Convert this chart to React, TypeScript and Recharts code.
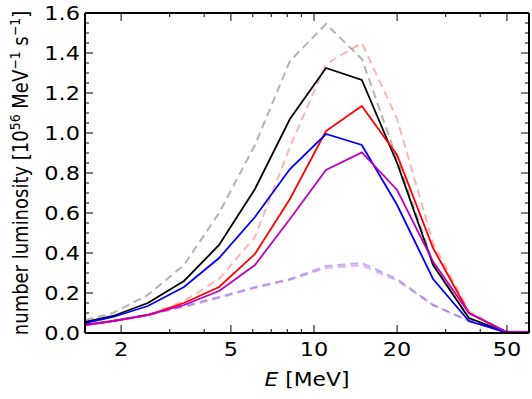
import { LineChart, Line, XAxis, YAxis } from "recharts";

// energy grid [MeV]
const energies = [1.48, 1.87, 2.5, 3.38, 4.53, 6.11, 8.18, 11.05, 14.9, 20.0, 27.0, 36.4, 49.6, 60.1];

// solid curves
const blackSolid = [0.055, 0.085, 0.15, 0.26, 0.44, 0.72, 1.07, 1.325, 1.265, 0.85, 0.34, 0.075, 0.004, 0.002];
const redSolid = [0.04, 0.06, 0.09, 0.15, 0.23, 0.395, 0.67, 1.01, 1.135, 0.89, 0.425, 0.1, 0.006, 0.004];
const blueSolid = [0.05, 0.08, 0.135, 0.23, 0.375, 0.58, 0.82, 0.995, 0.94, 0.64, 0.27, 0.06, 0.003, 0.002];
const magentaSolid = [0.04, 0.06, 0.09, 0.14, 0.21, 0.34, 0.57, 0.815, 0.903, 0.715, 0.357, 0.1, 0.007, 0.006];

// faded dashed curves
const blackDashed = [0.065, 0.1, 0.19, 0.34, 0.6, 0.94, 1.36, 1.545, 1.37, 0.87, 0.35, 0.07, 0.003, 0.002];
const redDashed = [0.04, 0.06, 0.09, 0.16, 0.27, 0.48, 0.93, 1.345, 1.45, 1.07, 0.45, 0.11, 0.005, 0.003];
const blueDashed = [0.04, 0.06, 0.09, 0.135, 0.18, 0.23, 0.27, 0.335, 0.35, 0.27, 0.14, 0.06, 0.005, 0.003];
const magentaDashed = [0.04, 0.06, 0.09, 0.13, 0.175, 0.225, 0.265, 0.325, 0.338, 0.262, 0.14, 0.06, 0.005, 0.003];

const xTicks = [2, 3, 4, 5, 6, 7, 8, 9, 10, 20, 30, 40, 50];
const xTickLabels = [2, 5, 10, 20, 50];
const yTicks = [
  0, 0.05, 0.1, 0.15, 0.2, 0.25, 0.3, 0.35, 0.4, 0.45, 0.5, 0.55, 0.6, 0.65, 0.7, 0.75, 0.8,
  0.85, 0.9, 0.95, 1.0, 1.05, 1.1, 1.15, 1.2, 1.25, 1.3, 1.35, 1.4, 1.45, 1.5, 1.55, 1.6,
];
const yTickLabels = [0, 0.2, 0.4, 0.6, 0.8, 1.0, 1.2, 1.4, 1.6];

const data = energies.map((e, i) => ({
  e,
  blackSolid: blackSolid[i],
  redSolid: redSolid[i],
  blueSolid: blueSolid[i],
  magentaSolid: magentaSolid[i],
  blackDashed: blackDashed[i],
  redDashed: redDashed[i],
  blueDashed: blueDashed[i],
  magentaDashed: magentaDashed[i],
}));

const FONT = "DejaVu Sans, sans-serif";
const STRETCH = 1.15;

const isMajorY = (v: number) => yTickLabels.some((t) => Math.abs(t - v) < 1e-6);

function XTick({ x, y, payload, top }: any) {
  const major = xTickLabels.includes(payload.value);
  const len = major ? 8 : 4;
  return (
    <g>
      <line x1={x} y1={y} x2={x} y2={top ? y + len : y - len} stroke="#000" strokeWidth={1} />
      {!top && major && (
        <text
          transform={`translate(${x},${y + 23}) scale(${STRETCH},1)`}
          textAnchor="middle"
          fontSize={19.5}
          fontFamily={FONT}
          fill="#000"
        >
          {payload.value}
        </text>
      )}
    </g>
  );
}

function YTick({ x, y, payload, right }: any) {
  const major = isMajorY(payload.value);
  const len = major ? 8 : 4;
  return (
    <g>
      <line x1={x} y1={y} x2={right ? x - len : x + len} y2={y} stroke="#000" strokeWidth={1} />
      {!right && major && (
        <text
          transform={`translate(${x - 5},${y + 6.5}) scale(${STRETCH},1)`}
          textAnchor="end"
          fontSize={19.5}
          fontFamily={FONT}
          fill="#000"
        >
          {payload.value.toFixed(1)}
        </text>
      )}
    </g>
  );
}

const solid = [
  { key: "blackSolid", color: "#000000" },
  { key: "redSolid", color: "#ff0000" },
  { key: "blueSolid", color: "#0000ff" },
  { key: "magentaSolid", color: "#bf00bf" },
];

const dashed = [
  { key: "blackDashed", color: "#000000" },
  { key: "redDashed", color: "#ff0000" },
  { key: "blueDashed", color: "#0000ff" },
  { key: "magentaDashed", color: "#bf00bf" },
];

export default function App() {
  const axisLine = { stroke: "#000", strokeWidth: 2 };
  return (
    <div style={{ position: "absolute", left: 0, top: 0, width: 532, height: 399, background: "#fff" }}>
      <LineChart width={532} height={399} data={data} margin={{ top: 12, right: 2, bottom: 65, left: 84 }}>
        <XAxis
          dataKey="e"
          type="number"
          scale="log"
          domain={[1.48, 60.1]}
          allowDataOverflow
          ticks={xTicks}
          interval={0}
          height={1}
          tickSize={0}
          tickMargin={0}
          tickLine={false}
          axisLine={axisLine}
          tick={(p: any) => <XTick {...p} />}
        />
        <XAxis
          xAxisId="top"
          orientation="top"
          dataKey="e"
          type="number"
          scale="log"
          domain={[1.48, 60.1]}
          allowDataOverflow
          ticks={xTicks}
          interval={0}
          height={1}
          tickSize={0}
          tickMargin={0}
          tickLine={false}
          axisLine={axisLine}
          tick={(p: any) => <XTick {...p} top />}
        />
        <YAxis
          type="number"
          domain={[0, 1.6]}
          allowDataOverflow
          ticks={yTicks}
          interval={0}
          width={1}
          tickSize={0}
          tickMargin={0}
          tickLine={false}
          axisLine={axisLine}
          tick={(p: any) => <YTick {...p} />}
        />
        <YAxis
          yAxisId="right"
          orientation="right"
          type="number"
          domain={[0, 1.6]}
          allowDataOverflow
          ticks={yTicks}
          interval={0}
          width={1}
          tickSize={0}
          tickMargin={0}
          tickLine={false}
          axisLine={axisLine}
          tick={(p: any) => <YTick {...p} right />}
        />
        {dashed.map((s) => (
          <Line
            key={s.key}
            type="linear"
            dataKey={s.key}
            stroke={s.color}
            strokeOpacity={0.3}
            strokeWidth={2}
            strokeDasharray="8 5"
            dot={false}
            isAnimationActive={false}
          />
        ))}
        {solid.map((s) => (
          <Line
            key={s.key}
            type="linear"
            dataKey={s.key}
            stroke={s.color}
            strokeWidth={1.8}
            dot={false}
            isAnimationActive={false}
          />
        ))}
      </LineChart>
      <svg
        width={532}
        height={399}
        style={{ position: "absolute", left: 0, top: 0, pointerEvents: "none" }}
      >
        <text
          transform={`translate(307,386) scale(1.12,1)`}
          textAnchor="middle"
          fontSize={19.5}
          fontFamily={FONT}
          fill="#000"
        >
          <tspan fontStyle="italic">E</tspan> [MeV]
        </text>
        <text
          transform={`translate(28,173) scale(${STRETCH},1) rotate(-90)`}
          textAnchor="middle"
          fontSize={18}
          fontFamily={FONT}
          fill="#000"
        >
          number luminosity [10
          <tspan dy={-7} fontSize={12.5}>56</tspan>
          <tspan dy={7}> MeV</tspan>
          <tspan dy={-7} fontSize={12.5}>−1</tspan>
          <tspan dy={7}> s</tspan>
          <tspan dy={-7} fontSize={12.5}>−1</tspan>
          <tspan dy={7}>]</tspan>
        </text>
      </svg>
    </div>
  );
}
